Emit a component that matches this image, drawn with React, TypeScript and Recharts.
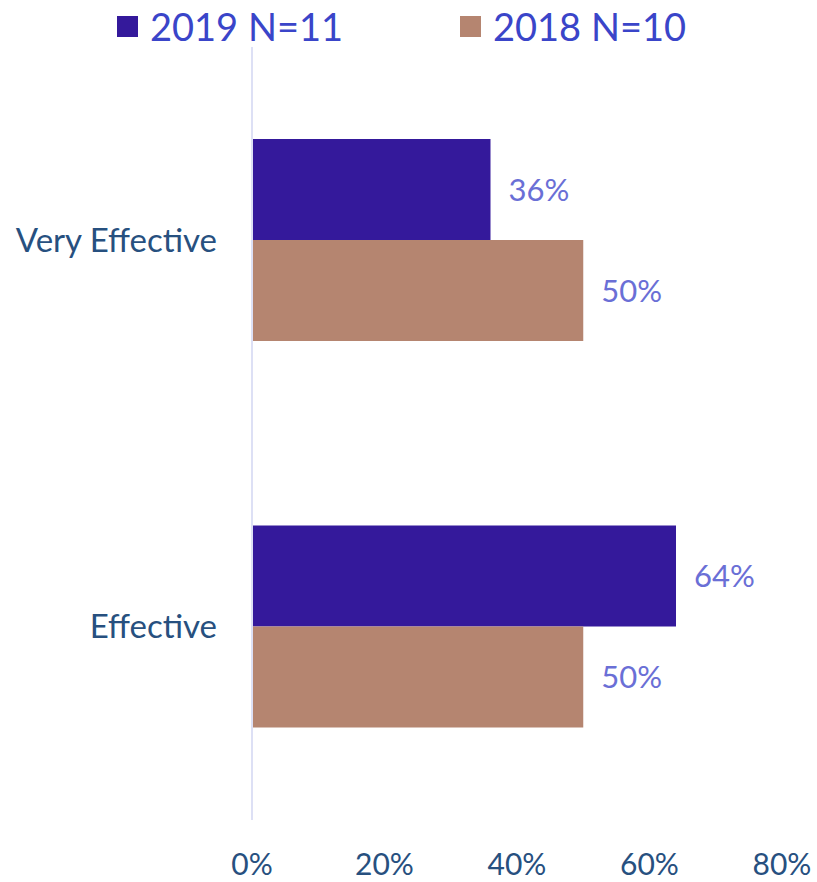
import { Bar, BarChart, LabelList, XAxis, YAxis } from "recharts";

const categories = ["Very Effective", "Effective"];
const values2019 = [36, 64];
const values2018 = [50, 50];
const xTicks = [0, 20, 40, 60, 80];

const data = categories.map((name, i) => ({
    name,
    y2019: values2019[i],
    y2018: values2018[i],
}));

const FONT = "Lato, 'Open Sans', sans-serif";
const C2019 = "#34199b";
const C2018 = "#b58570";

function LegendItem({ color, label, left }: { color: string; label: string; left: number }) {
    return (
        <div style={{ position: "absolute", left, top: 4, display: "flex", alignItems: "center" }}>
            <div style={{ width: 21, height: 21, background: color, marginRight: 12 }} />
            <span style={{ fontFamily: FONT, fontSize: 38, color: "#3a45c9", lineHeight: "44px" }}>{label}</span>
        </div>
    );
}

export default function App() {
    return (
        <div style={{ position: "absolute", left: 0, top: 0, width: 817, height: 882, background: "#fff" }}>
            <LegendItem color={C2019} label="2019 N=11" left={117} />
            <LegendItem color={C2018} label="2018 N=10" left={460} />
            <BarChart
                width={817}
                height={882}
                layout="vertical"
                data={data}
                barGap={0}
                margin={{ top: 47, right: 35, left: 0, bottom: 0 }}
            >
                <XAxis
                    type="number"
                    domain={[0, 80]}
                    ticks={xTicks}
                    tickFormatter={(v) => `${v}%`}
                    axisLine={false}
                    tickLine={false}
                    tickSize={0}
                    tickMargin={34}
                    height={62}
                    interval={0}
                    tick={{ fill: "#27507f", fontSize: 30, fontFamily: FONT }}
                />
                <YAxis
                    type="category"
                    dataKey="name"
                    width={252}
                    axisLine={{ stroke: "#dde0f5", strokeWidth: 2 }}
                    tickLine={false}
                    tickSize={0}
                    tickMargin={35}
                    tick={{ fill: "#27507f", fontSize: 33, fontFamily: FONT }}
                />
                <Bar dataKey="y2019" fill={C2019} barSize={101} isAnimationActive={false}>
                    <LabelList
                        dataKey="y2019"
                        position="right"
                        offset={18}
                        formatter={(v: any) => `${v}%`}
                        fill="#6a6fd6"
                        fontSize={31}
                        fontFamily={FONT}
                    />
                </Bar>
                <Bar dataKey="y2018" fill={C2018} barSize={101} isAnimationActive={false}>
                    <LabelList
                        dataKey="y2018"
                        position="right"
                        offset={18}
                        formatter={(v: any) => `${v}%`}
                        fill="#6a6fd6"
                        fontSize={31}
                        fontFamily={FONT}
                    />
                </Bar>
            </BarChart>
        </div>
    );
}
